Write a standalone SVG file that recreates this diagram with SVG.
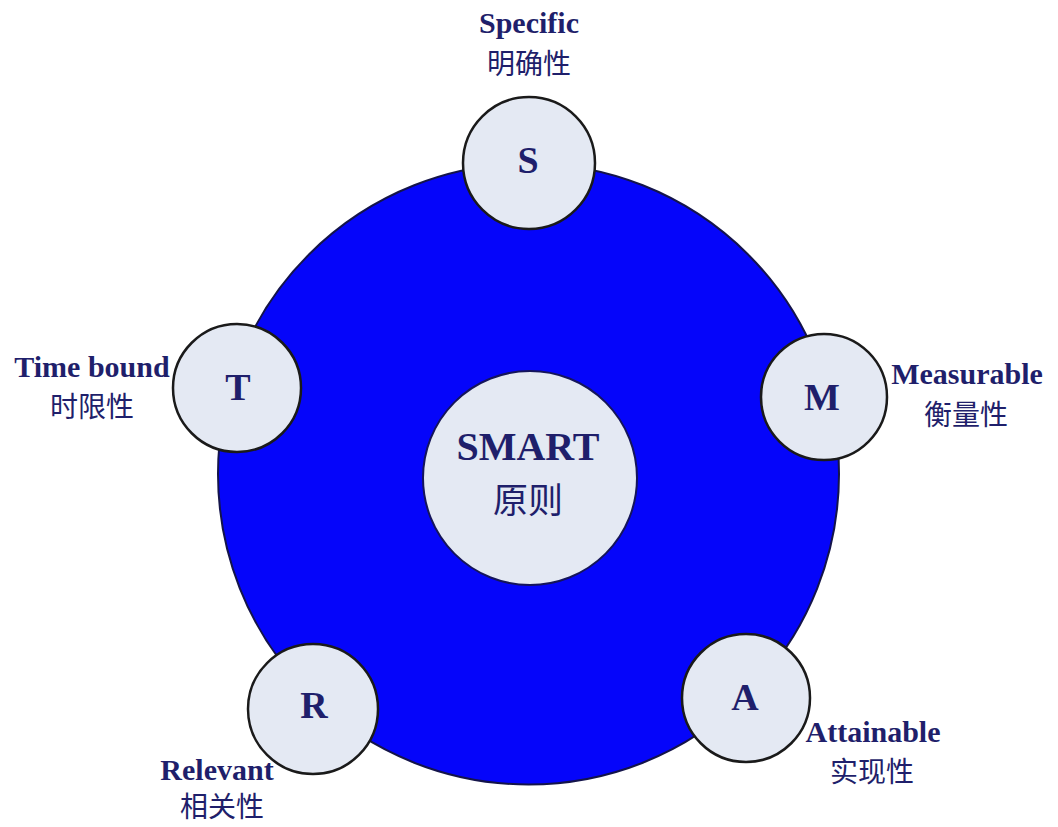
<svg xmlns="http://www.w3.org/2000/svg" width="1058" height="827" viewBox="0 0 1058 827">
<style>
.big{fill:#0505fa;stroke:#14144a;stroke-width:2}
.node{fill:#e4e9f3;stroke:#1a1a1a;stroke-width:2.5}
.hub{fill:#e4e9f3;stroke:#15155a;stroke-width:2}
.en{font-family:"Liberation Serif","Times New Roman",serif;font-weight:bold;fill:#1f1f6b;text-anchor:middle}
.lbl{font-size:30px}
.let{font-size:38px}
.zh{font-family:"Noto Sans CJK SC","Liberation Serif",serif;fill:#1f1f6b;text-anchor:middle;font-size:28px}
</style>
<rect width="1058" height="827" fill="#ffffff"/>
<g id="ring"><circle class="big" cx="528.5" cy="474" r="310.5"/></g>
<g id="connectors"/>
<g id="hub">
<circle class="hub" cx="530" cy="478" r="107"/>
<text class="en" x="528" y="460" style="font-size:40px">SMART</text>
<text class="zh" x="528" y="513" style="font-size:35px">原则</text>
</g>
<g id="node-S">
<circle class="node" cx="529" cy="163" r="66"/>
<text class="en let" x="528" y="173">S</text>
<text class="en lbl" x="529" y="33">Specific</text>
<text class="zh" x="529" y="74">明确性</text>
</g>
<g id="node-M">
<circle class="node" cx="824" cy="397" r="63"/>
<text class="en let" x="822" y="410">M</text>
<text class="en lbl" x="967" y="384">Measurable</text>
<text class="zh" x="966" y="425">衡量性</text>
</g>
<g id="node-A">
<circle class="node" cx="746" cy="698" r="64"/>
<text class="en let" x="745" y="710">A</text>
<text class="en lbl" x="873" y="742">Attainable</text>
<text class="zh" x="872" y="782">实现性</text>
</g>
<g id="node-R">
<circle class="node" cx="313" cy="709" r="65"/>
<text class="en let" x="314" y="718">R</text>
<text class="en lbl" x="217" y="780">Relevant</text>
<text class="zh" x="222" y="817">相关性</text>
</g>
<g id="node-T">
<circle class="node" cx="237" cy="388" r="64"/>
<text class="en let" x="238" y="400">T</text>
<text class="en lbl" x="92" y="377">Time bound</text>
<text class="zh" x="92" y="417">时限性</text>
</g>
</svg>
